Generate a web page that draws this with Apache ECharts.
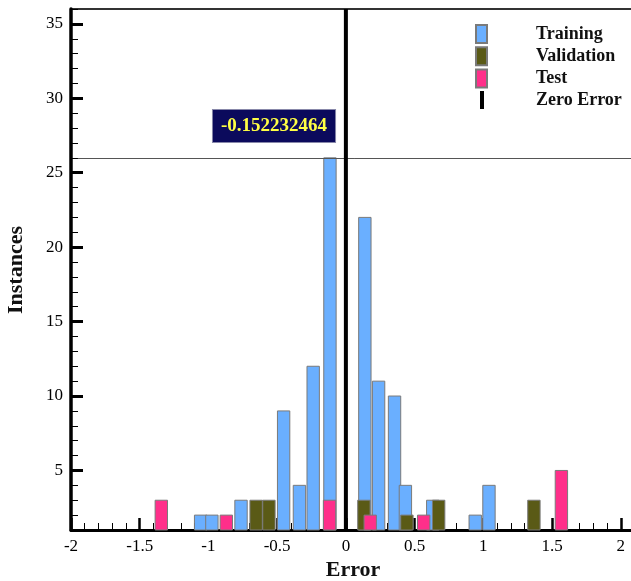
<!DOCTYPE html>
<html><head><meta charset="utf-8">
<script src="https://cdn.jsdelivr.net/npm/echarts@6/dist/echarts.min.js"></script>
<style>html,body{margin:0;padding:0;background:#fff;overflow:hidden}#c{width:631px;height:581px}</style>
</head><body><div id="c"></div>
<script>
// ---- data ----
var trainX = [-1.057, -0.975, -0.763, -0.453, -0.338, -0.238, -0.116, 0.138, 0.238, 0.354, 0.433, 0.632, 0.941, 1.041];
var trainN = [2, 2, 3, 9, 4, 12, 26, 22, 11, 10, 4, 3, 2, 4];
var valX = [-0.653, -0.56, 0.131, 0.444, 0.675, 1.368];
var valN = [3, 3, 3, 2, 3, 3];
var testX = [-1.343, -0.87, -0.119, 0.177, 0.566, 1.568];
var testN = [3, 2, 3, 2, 2, 5];
var zeroX = [0];
var maxCount = 26;
var annotText = '-0.152232464';
var yMajorTicks = [5, 10, 15, 20, 25, 30, 35];
var names = ['Training', 'Validation', 'Test', 'Zero Error'];

// ---- chart ----
var Y_MIN = 1, Y_MAX = 36, BW = 0.09;
var SERIF = '"Liberation Serif","Times New Roman",serif';
function pairs(xs, ns) { return xs.map(function (x, i) { return [x, ns[i]]; }); }
function renderBar(params, api) {
  var x = api.value(0), v = api.value(1);
  var p0 = api.coord([x - BW / 2, v]);
  var p1 = api.coord([x + BW / 2, Y_MIN]);
  return { type: 'rect', shape: { x: p0[0], y: p0[1], width: p1[0] - p0[0], height: p1[1] - p0[1] }, style: api.style() };
}
function renderZero(params, api) {
  var x = api.value(0);
  var a = api.coord([x, Y_MIN]), b = api.coord([x, Y_MAX]);
  return { type: 'line', shape: { x1: a[0], y1: a[1], x2: b[0], y2: b[1] }, style: { stroke: '#000', lineWidth: 4 }, z2: 10 };
}
function barSeries(name, data, color) {
  return {
    type: 'custom', name: name, renderItem: renderBar, data: data,
    encode: { x: 0, y: 1 },
    itemStyle: { color: color, borderColor: '#7a7a7a', borderWidth: 1 }
  };
}
var chart = echarts.init(document.getElementById('c'), null, { renderer: 'canvas' });
var train = barSeries(names[0], pairs(trainX, trainN), '#6aafff');
train.markLine = {
  silent: true, symbol: 'none', label: { show: false },
  lineStyle: { color: '#555', width: 1, type: 'solid' },
  data: [[{ coord: [-1.95, maxCount] }, { coord: [2.5, maxCount] }]]
};
train.markPoint = {
  symbol: 'rect', symbolSize: 0,
  data: [{ coord: [-0.523, 28.14], value: annotText }],
  label: {
    show: true, position: 'inside', formatter: annotText,
    color: '#ffff44', fontFamily: SERIF, fontWeight: 'bold', fontSize: 19,
    backgroundColor: '#0b0a5c', borderColor: '#8888aa', borderWidth: 1, padding: [7, 8, 6, 8]
  }
};
var option = {
  animation: false,
  backgroundColor: '#fff',
  grid: { left: 71, width: 618.5, top: 9, bottom: 51, outerBoundsMode: 'none', containLabel: false, show: true, borderColor: '#333', borderWidth: 2, backgroundColor: 'transparent' },
  legend: {
    orient: 'vertical', left: 470, top: 19, itemWidth: 11, itemHeight: 18, itemGap: 2.3,
    selectedMode: false,
    textStyle: { fontFamily: SERIF, fontWeight: 'bold', fontSize: 18, lineHeight: 18, color: '#111', padding: [0, 0, 0, 44] },
    data: [
      { name: names[0], icon: 'rect' },
      { name: names[1], icon: 'rect' },
      { name: names[2], icon: 'rect' },
      { name: names[3], icon: 'path://M0,0L0,0ZM11,18L11,18ZM4,0L8,0L8,18L4,18Z' }
    ]
  },
  xAxis: {
    type: 'value', min: -2, max: 2.5, interval: 0.5,
    axisLine: { show: true, onZero: false, lineStyle: { color: '#000', width: 3 } },
    axisTick: { show: true, inside: true, length: 12, lineStyle: { color: '#000', width: 2.5 } },
    minorTick: { show: true, splitNumber: 5, length: 7, lineStyle: { color: '#000', width: 1 } },
    splitLine: { show: false },
    axisLabel: { color: '#000', fontFamily: SERIF, fontSize: 17, margin: 8, showMaxLabel: false,
      formatter: function (v) { return String(Math.round(v * 10) / 10); } }
  },
  yAxis: [
    {
      type: 'value', min: Y_MIN, max: Y_MAX, position: 'left',
      axisLine: { show: true, onZero: false, lineStyle: { color: '#000', width: 3.5 } },
      axisTick: { show: true, inside: true, length: 12, customValues: yMajorTicks, lineStyle: { color: '#000', width: 3 } },
      axisLabel: { color: '#000', fontFamily: SERIF, fontSize: 17, margin: 8, customValues: yMajorTicks },
      splitLine: { show: false }
    },
    {
      type: 'value', min: Y_MIN, max: Y_MAX, interval: 1, position: 'left', offset: 0,
      axisLine: { show: false, onZero: false },
      axisTick: { show: true, inside: true, length: 7, lineStyle: { color: '#000', width: 1 } },
      axisLabel: { show: false },
      splitLine: { show: false }
    }
  ],
  graphic: [
    { type: 'text', x: 353, y: 559, style: { text: 'Error', font: 'bold 22px ' + SERIF, fill: '#111', align: 'center', verticalAlign: 'top' } },
    { type: 'text', x: 5, y: 270, rotation: Math.PI / 2, style: { text: 'Instances', font: 'bold 22px ' + SERIF, fill: '#111', align: 'center', verticalAlign: 'top' } }
  ],
  series: [
    train,
    barSeries(names[1], pairs(valX, valN), '#5a5a16'),
    barSeries(names[2], pairs(testX, testN), '#ff2f8a'),
    { type: 'custom', name: names[3], renderItem: renderZero, data: zeroX.map(function (x) { return [x]; }), encode: { x: 0 }, itemStyle: { color: '#000' }, z: 5 }
  ]
};
chart.setOption(option);
</script>
</body></html>
